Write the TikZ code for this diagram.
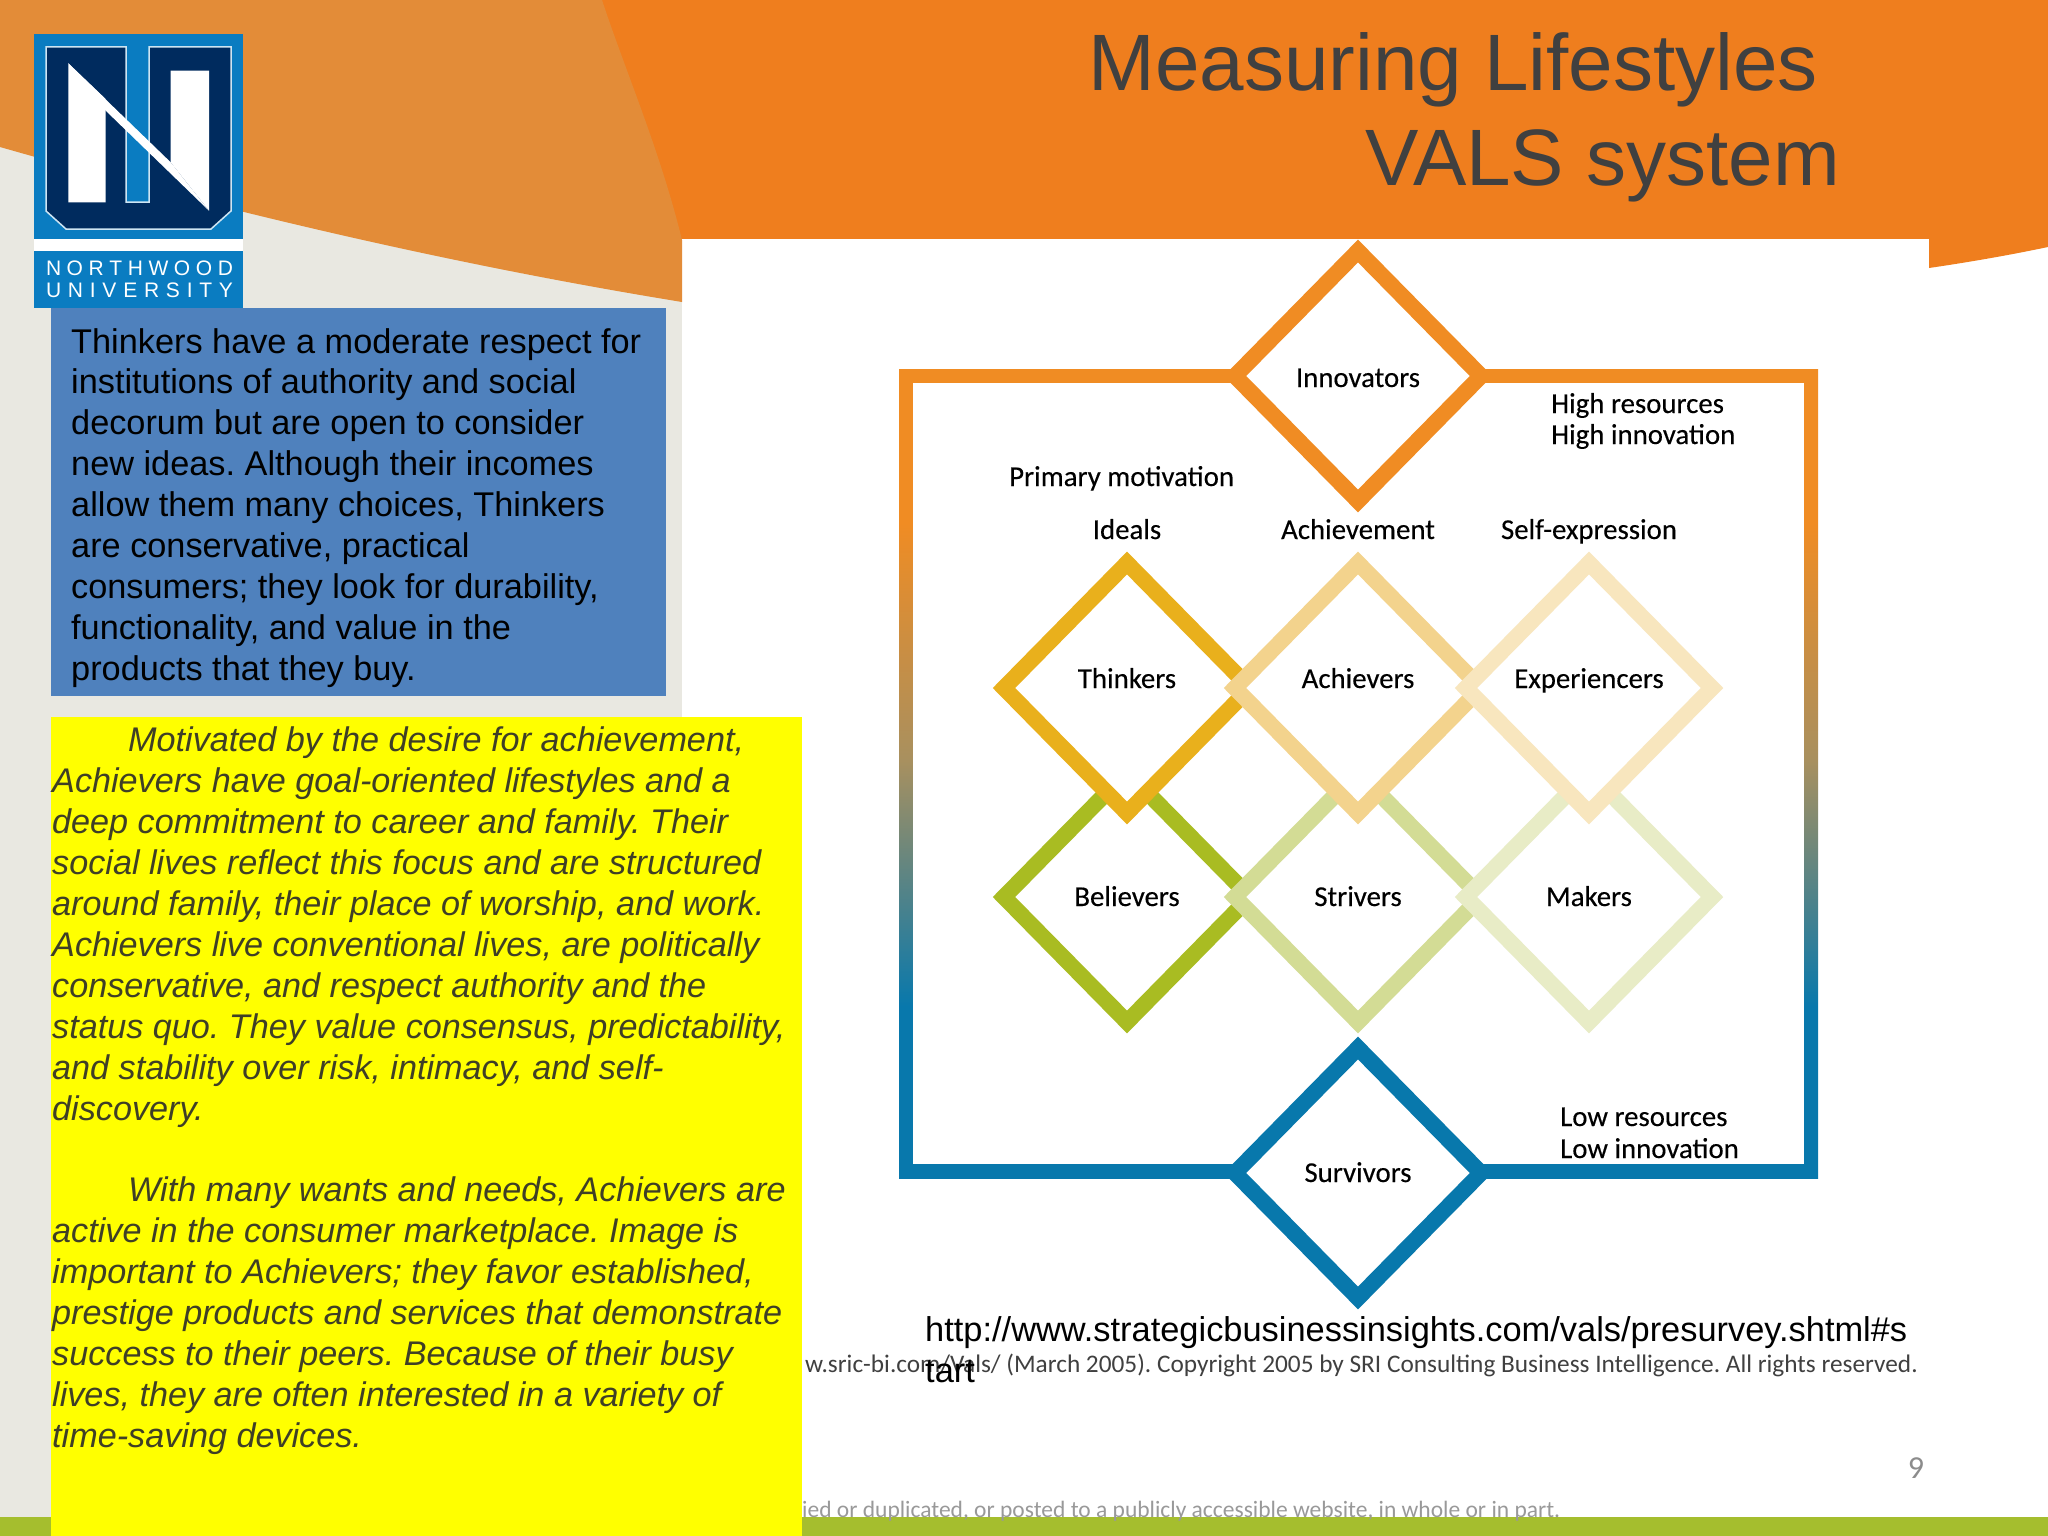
\documentclass[tikz,border=0pt]{standalone}
\usepackage{fontspec}
\setmainfont{Liberation Sans}
\newfontfamily\imgfont[FakeBold=0.3]{Carlito}
\newfontfamily\plainimg{Carlito}
\AtBeginDocument{\frenchspacing}
\definecolor{paper}{HTML}{E9E8E1}
\definecolor{lightor}{HTML}{E38C38}
\definecolor{mainor}{HTML}{EF7E1E}
\definecolor{panel}{HTML}{4F81BD}
\definecolor{barg}{HTML}{A5BE2E}
\definecolor{titlec}{HTML}{404040}
\definecolor{italc}{HTML}{3F3F26}
\definecolor{navy}{HTML}{002B5E}
\definecolor{nblue}{HTML}{0A7CC1}
\definecolor{frameor}{HTML}{F08C23}
\definecolor{framemid}{HTML}{A8905F}
\definecolor{frameblue}{HTML}{0878AC}
\definecolor{dthink}{HTML}{E9B01C}
\definecolor{dach}{HTML}{F3D38D}
\definecolor{dexp}{HTML}{F8E6BE}
\definecolor{dbel}{HTML}{A9BC22}
\definecolor{dstr}{HTML}{D3DC95}
\definecolor{dmak}{HTML}{E8ECC6}
\definecolor{pureyellow}{HTML}{FFFF00}
\pgfdeclareverticalshading{framegrad}{100bp}{color(0bp)=(frameblue); color(35.6bp)=(frameblue); color(50.8bp)=(framemid); color(65.5bp)=(frameor); color(100bp)=(frameor)}
\tikzset{
  x=1pt,y=-1pt,
  bodytext/.style={anchor=north west,inner sep=0pt,align=left,font=\fontsize{34.3}{40.9}\selectfont},
  imglabel/.style={inner sep=0pt,anchor=base,text=black,font=\imgfont\fontsize{28.8}{31.5}\selectfont},
  vdiamond/.style={line width=16pt,fill=white,line join=miter,miter limit=10},
  logoline/.style={inner sep=0pt,text=white,text width=187pt,font=\fontsize{21}{24}\selectfont},
}
\newcommand{\vd}[5]{\path[vdiamond,draw=#1] (#2-123,#3) -- (#2,#3-125) -- (#2+123,#3) -- (#2,#3+125) -- cycle;\node[imglabel] (#5) at (#2,#4) {#5};}
\begin{document}
\begin{tikzpicture}
\useasboundingbox (0,0) rectangle (2048,1536);
% backgrounds
\fill[white] (0,0) rectangle (2048,1536);
\fill[paper] (0,0) rectangle (682,1536);
\fill[mainor] (590,0) rectangle (2048,239);
\fill[mainor] (1929,200) -- (2048,200) -- (2048,247) .. controls (2010,255) and (1970,262) .. (1929,268) -- cycle;
\fill[lightor] (0,0) -- (602,0) .. controls (625,70) and (660,150) .. (682,240) -- (682,302) .. controls (455,265) and (227,212) .. (0,147) -- cycle;
% bottom bar
\fill[barg] (0,1517) rectangle (2048,1536);
% logo
\fill[nblue] (34,34) rectangle (243,308);
\fill[white] (34,239) rectangle (243,251);
\path[draw=white!80!nblue,line width=1.5pt,fill=navy] (46,47) -- (126,47) -- (126,202) -- (149,202) -- (149,47) -- (231,47) -- (231,211) -- (211,229) -- (66,229) -- (46,211) -- cycle;
\fill[white] (68.3,63.3) -- (105.7,99) -- (105.7,202.3) -- (68.3,202.3) -- cycle;
\fill[white] (170.7,70.7) -- (209,70.7) -- (209,210.7) -- (170.7,162.3) -- cycle;
\fill[white] (68.3,63.3) -- (170.7,162.3) -- (209,210.7) -- (105.7,110.7) -- cycle;
\node[logoline] (logo1) at (139.5,268.5) {N\hfill O\hfill R\hfill T\hfill H\hfill W\hfill O\hfill O\hfill D};
\node[logoline] (logo2) at (139.5,290.5) {U\hfill N\hfill I\hfill V\hfill E\hfill R\hfill S\hfill I\hfill T\hfill Y};
% title
\node[anchor=east,inner sep=0pt,text=titlec,font=\fontsize{80}{94}\selectfont] (t1) at (1818,70) {Measuring Lifestyles};
\node[anchor=east,inner sep=0pt,text=titlec,font=\fontsize{80}{94}\selectfont] (t2) at (1840,166) {VALS system};
% image frame
\shade[shading=framegrad] (899,369) rectangle (1818,1178);
\fill[white] (913,383) rectangle (1804,1164);
% diamonds
\vd{dbel}{1127}{897}{906}{Believers}
\vd{dstr}{1358}{897}{906}{Strivers}
\vd{dmak}{1589}{897}{906}{Makers}
\vd{dthink}{1127}{688}{688}{Thinkers}
\vd{dach}{1358}{688}{688}{Achievers}
\vd{dexp}{1589}{688}{688}{Experiencers}
\vd{frameor}{1358}{376}{387}{Innovators}
\vd{frameblue}{1358}{1173}{1182}{Survivors}
\node[imglabel,anchor=base west] (pm) at (1009,486) {Primary motivation};
\node[imglabel] (l1) at (1127,539) {Ideals};
\node[imglabel] (l2) at (1358,539) {Achievement};
\node[imglabel] (l3) at (1589,539) {Self-expression};
\node[imglabel,anchor=base west] (hr) at (1551,413) {High resources};
\node[imglabel,anchor=base west] (hi) at (1551,444) {High innovation};
\node[imglabel,anchor=base west] (lr) at (1560,1126) {Low resources};
\node[imglabel,anchor=base west] (li) at (1560,1158) {Low innovation};
\node[anchor=east,inner sep=0pt,text=black!75,font=\plainimg\fontsize{25.3}{28}\selectfont] (cr) at (1918,1365) {w.sric-bi.com/Vals/ (March 2005). Copyright 2005 by SRI Consulting Business Intelligence. All rights reserved.};
% text boxes
\fill[panel] (51,308) rectangle (666,696);
\node[bodytext,text=black] (thinkers) at (71,328) {Thinkers have a moderate respect for\\institutions of authority and social\\decorum but are open to consider\\new ideas. Although their incomes\\allow them many choices, Thinkers\\are conservative, practical\\consumers; they look for durability,\\functionality, and value in the\\products that they buy.};
\fill[pureyellow] (51,717) rectangle (802,1536);
\node[bodytext,text=italc,font=\fontsize{34.2}{40.9}\selectfont\itshape] (ach) at (52,727) {\hspace*{76pt}Motivated by the desire for achievement,\\Achievers have goal-oriented lifestyles and a\\deep commitment to career and family. Their\\social lives reflect this focus and are structured\\around family, their place of worship, and work.\\Achievers live conventional lives, are politically\\conservative, and respect authority and the\\status quo. They value consensus, predictability,\\and stability over risk, intimacy, and self-\\discovery.\\[40.9pt]\hspace*{76pt}With many wants and needs, Achievers are\\active in the consumer marketplace. Image is\\important to Achievers; they favor established,\\prestige products and services that demonstrate\\success to their peers. Because of their busy\\lives, they are often interested in a variety of\\time-saving devices.};
\node[anchor=north west,inner sep=0pt,align=left,text=black,font=\fontsize{34.4}{41}\selectfont] (url) at (925,1316) {http://www.strategicbusinessinsights.com/vals/presurvey.shtml\#s\\tart};
\node[inner sep=0pt,text=black!45,font=\plainimg\fontsize{32}{36}\selectfont] (pg) at (1916,1468) {9};
\node[anchor=west,inner sep=0pt,text=black!40,font=\plainimg\fontsize{23.5}{28}\selectfont] (foot) at (802,1511) {ied or duplicated, or posted to a publicly accessible website, in whole or in part.};
\end{tikzpicture}
\end{document}
